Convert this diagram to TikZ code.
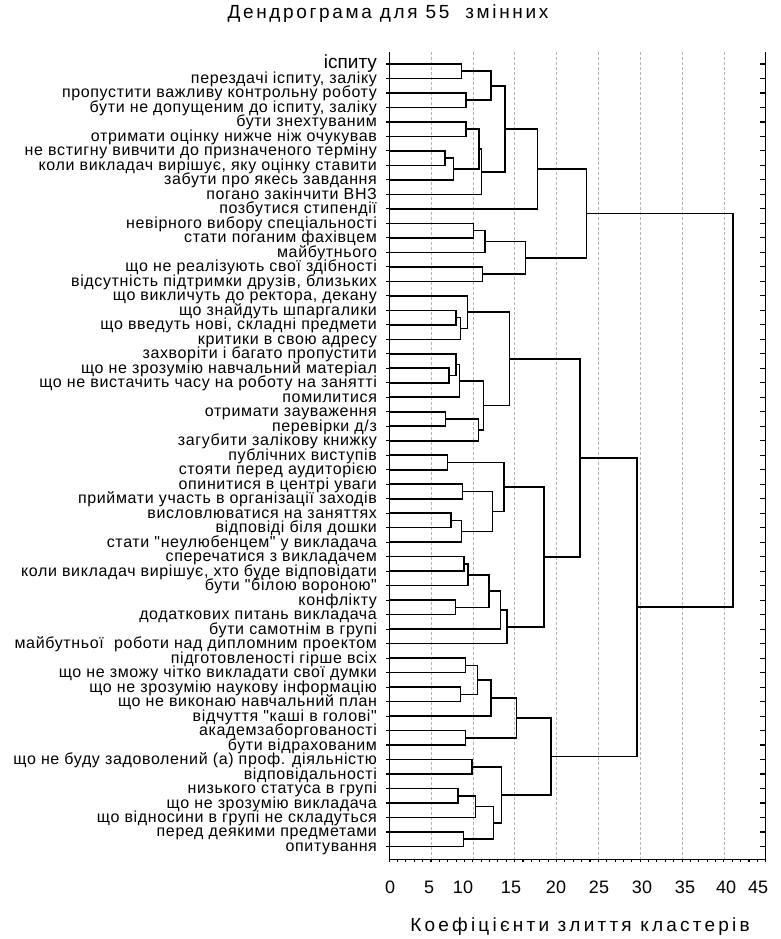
\documentclass[tikz,border=0pt]{standalone}
\usepackage{fontspec}
\setmainfont{Liberation Sans}
\newfontfamily\plotfont[LetterSpace=14]{Liberation Sans}
\newfontfamily\axisfont[LetterSpace=17]{Liberation Sans}
\newfontfamily\labelfont[LetterSpace=4]{Liberation Sans}
\begin{document}
\begin{tikzpicture}[x=1pt, y=-1pt,
    branch/.style={line width=1.6pt},
    axisline/.style={line width=1.1pt},
    gridline/.style={densely dashed, black!30, line width=0.6pt},
    leaflabel/.style={anchor=base east, inner sep=0pt, xshift=-12pt, yshift=-5pt,
      font=\labelfont\fontsize{16}{16}\selectfont},
    ticklabel/.style={anchor=base, inner sep=0pt, font=\fontsize{18}{18}\selectfont}]
  \useasboundingbox (0,0) rectangle (781,939);
  \node[anchor=base, inner sep=0pt, font=\plotfont\fontsize{19}{19}\selectfont] (title) at (388,19) {Дендрограма для 55\ \ змінних};
  \node[anchor=base, inner sep=0pt, font=\axisfont\fontsize{19}{19}\selectfont] (xtitle) at (580,931) {Коефіцієнти злиття кластерів};
  % tick labels
  \foreach \t/\px in {0/390, 5/429, 10/463, 15/511, 20/556, 25/599, 30/642, 35/685, 40/726, 45/758}
    \node[ticklabel] (n\t) at (\px,893) {\t};
  \begin{scope}[shift={(389.1,49.51)}, x=8.37pt, y=-14.49pt]
    \foreach \i in {1,...,55}
      \coordinate (l\i) at (0,\i);
    % grid and frame
    \foreach \v in {5,10,...,40}
      \draw[gridline] (\v,0.17) -- (\v,55.87);
    \draw[axisline] (0,0.17) -- (0,55.87) -- (45,55.87) -- (45,0.17);
    \foreach \i in {1,...,55} {
      \draw[axisline] (0,\i) -- +(-3pt,0);
      \draw[axisline] (45,\i) -- +(-6pt,0);
    }
    \foreach \v in {0,...,45}
      \draw[axisline] (\v,55.87) -- +(0,-3pt);
    % leaf labels
    \node[leaflabel, yshift=0.5pt, font=\fontsize{19}{19}\selectfont] (t1) at (l1) {іспиту};
    \foreach \i/\txt in {2/{перездачі іспиту, заліку}, 3/{пропустити важливу контрольну роботу},
        4/{бути не допущеним до іспиту, заліку}, 5/{бути знехтуваним},
        6/{отримати оцінку нижче ніж очукував}, 7/{не встигну вивчити до призначеного терміну},
        8/{коли викладач вирішує, яку оцінку ставити}, 9/{забути про якесь завдання},
        10/{погано закінчити ВНЗ}, 11/{позбутися стипендії}, 12/{невірного вибору спеціальності},
        13/{стати поганим фахівцем}, 14/{майбутнього}, 15/{що не реалізують свої здібності},
        16/{відсутність підтримки друзів, близьких}, 17/{що викличуть до ректора, декану},
        18/{що знайдуть шпаргалики}, 19/{що введуть нові, складні предмети},
        20/{критики в свою адресу}, 21/{захворіти і багато пропустити},
        22/{що не зрозумію навчальний матеріал}, 23/{що не вистачить часу на роботу на занятті},
        24/{помилитися}, 25/{отримати зауваження}, 26/{перевірки д/з}, 27/{загубити залікову книжку},
        28/{публічних виступів}, 29/{стояти перед аудиторією}, 30/{опинитися в центрі уваги},
        31/{приймати участь в організації заходів}, 32/{висловлюватися на заняттях},
        33/{відповіді біля дошки}, 34/{стати "неулюбенцем" у викладача},
        35/{сперечатися з викладачем}, 36/{коли викладач вирішує, хто буде відповідати},
        37/{бути "білою вороною"}, 38/{конфлікту}, 39/{додаткових питань викладача},
        40/{бути самотнім в групі}, 41/{майбутньої\ \ роботи над дипломним проектом},
        42/{підготовленості гірше всіх}, 43/{що не зможу чітко викладати свої думки},
        44/{що не зрозумію наукову інформацію}, 45/{що не виконаю навчальний план},
        46/{відчуття "каші в голові"}, 47/{академзаборгованості}, 48/{бути відрахованим},
        49/{що не буду задоволений (а) проф. діяльністю}, 50/{відповідальності},
        51/{низького статуса в групі}, 52/{що не зрозумію викладача},
        53/{що відносини в групі не складуться}, 54/{перед деякими предметами}, 55/{опитування}}
      \node[leaflabel] (t\i) at (l\i) {\txt};
    % first cluster
    \coordinate (c1) at (8.67,1.5);   \draw[branch] (l1) -| (c1) (l2) -| (c1);
    \coordinate (c2) at (9.19,3.5);   \draw[branch] (l3) -| (c2) (l4) -| (c2);
    \coordinate (c3) at (12.14,2.5);  \draw[branch] (c1) -| (c3) (c2) -| (c3);
    \coordinate (c4) at (9.19,5.5);   \draw[branch] (l5) -| (c4) (l6) -| (c4);
    \coordinate (c5) at (6.68,7.5);   \draw[branch] (l7) -| (c5) (l8) -| (c5);
    \coordinate (c6) at (7.67,8.25);  \draw[branch] (c5) -| (c6) (l9) -| (c6);
    \coordinate (c7) at (10.74,6.875); \draw[branch] (c4) -| (c7) (c6) -| (c7);
    \coordinate (c8) at (11.06,8.4375); \draw[branch] (c7) -| (c8) (l10) -| (c8);
    \coordinate (c9) at (13.85,5.46875); \draw[branch] (c3) -| (c9) (c8) -| (c9);
    \coordinate (c10) at (17.71,8.234375); \draw[branch] (c9) -| (c10) (l11) -| (c10);
    \coordinate (c11) at (10.06,12.5); \draw[branch] (l12) -| (c11) (l13) -| (c11);
    \coordinate (c12) at (11.46,13.25); \draw[branch] (c11) -| (c12) (l14) -| (c12);
    \coordinate (c13) at (11.14,15.5); \draw[branch] (l15) -| (c13) (l16) -| (c13);
    \coordinate (c14) at (16.3,14.375); \draw[branch] (c12) -| (c14) (c13) -| (c14);
    \coordinate (c15) at (23.6,11.3046875); \draw[branch] (c10) -| (c15) (c14) -| (c15);
    % second cluster
    \coordinate (c16) at (7.99,18.5);  \draw[branch] (l18) -| (c16) (l19) -| (c16);
    \coordinate (c17) at (8.55,19.25); \draw[branch] (c16) -| (c17) (l20) -| (c17);
    \coordinate (c18) at (9.35,18.125); \draw[branch] (l17) -| (c18) (c17) -| (c18);
    \coordinate (c19) at (7.16,22.5);  \draw[branch] (l22) -| (c19) (l23) -| (c19);
    \coordinate (c20) at (7.99,21.75); \draw[branch] (l21) -| (c20) (c19) -| (c20);
    \coordinate (c21) at (8.39,22.875); \draw[branch] (c20) -| (c21) (l24) -| (c21);
    \coordinate (c22) at (6.76,25.5);  \draw[branch] (l25) -| (c22) (l26) -| (c22);
    \coordinate (c23) at (10.66,26.25); \draw[branch] (c22) -| (c23) (l27) -| (c23);
    \coordinate (c24) at (11.26,24.5625); \draw[branch] (c21) -| (c24) (c23) -| (c24);
    \coordinate (c25) at (14.36,21.34375); \draw[branch] (c18) -| (c25) (c24) -| (c25);
    \coordinate (c26) at (6.96,28.5);  \draw[branch] (l28) -| (c26) (l29) -| (c26);
    \coordinate (c27) at (8.75,30.5);  \draw[branch] (l30) -| (c27) (l31) -| (c27);
    \coordinate (c28) at (7.36,32.5);  \draw[branch] (l32) -| (c28) (l33) -| (c28);
    \coordinate (c29) at (8.67,33.25); \draw[branch] (c28) -| (c29) (l34) -| (c29);
    \coordinate (c30) at (12.37,31.875); \draw[branch] (c27) -| (c30) (c29) -| (c30);
    \coordinate (c31) at (13.73,30.1875); \draw[branch] (c26) -| (c31) (c30) -| (c31);
    \coordinate (c32) at (8.95,35.5);  \draw[branch] (l35) -| (c32) (l36) -| (c32);
    \coordinate (c33) at (9.39,36.25); \draw[branch] (c32) -| (c33) (l37) -| (c33);
    \coordinate (c34) at (7.95,38.5);  \draw[branch] (l38) -| (c34) (l39) -| (c34);
    \coordinate (c35) at (11.94,37.375); \draw[branch] (c33) -| (c35) (c34) -| (c35);
    \coordinate (c36) at (13.33,38.6875); \draw[branch] (c35) -| (c36) (l40) -| (c36);
    \coordinate (c37) at (14.12,39.84375); \draw[branch] (c36) -| (c37) (l41) -| (c37);
    \coordinate (c38) at (18.5,35.015625); \draw[branch] (c31) -| (c38) (c37) -| (c38);
    \coordinate (c39) at (22.78,28.1796875); \draw[branch] (c25) -| (c39) (c38) -| (c39);
    % third cluster
    \coordinate (c40) at (9.15,42.5);  \draw[branch] (l42) -| (c40) (l43) -| (c40);
    \coordinate (c41) at (8.55,44.5);  \draw[branch] (l44) -| (c41) (l45) -| (c41);
    \coordinate (c42) at (10.54,43.5); \draw[branch] (c40) -| (c42) (c41) -| (c42);
    \coordinate (c43) at (12.17,44.75); \draw[branch] (c42) -| (c43) (l46) -| (c43);
    \coordinate (c44) at (9.15,47.5);  \draw[branch] (l47) -| (c44) (l48) -| (c44);
    \coordinate (c45) at (15.24,46.125); \draw[branch] (c43) -| (c45) (c44) -| (c45);
    \coordinate (c46) at (9.87,49.5);  \draw[branch] (l49) -| (c46) (l50) -| (c46);
    \coordinate (c47) at (8.2,51.5);   \draw[branch] (l51) -| (c47) (l52) -| (c47);
    \coordinate (c48) at (10.34,52.25); \draw[branch] (c47) -| (c48) (l53) -| (c48);
    \coordinate (c49) at (8.87,54.5);  \draw[branch] (l54) -| (c49) (l55) -| (c49);
    \coordinate (c50) at (12.45,53.375); \draw[branch] (c48) -| (c50) (c49) -| (c50);
    \coordinate (c51) at (13.45,51.4375); \draw[branch] (c46) -| (c51) (c50) -| (c51);
    \coordinate (c52) at (19.34,48.78125); \draw[branch] (c45) -| (c52) (c51) -| (c52);
    % top joins
    \coordinate (c53) at (29.6,38.48046875); \draw[branch] (c39) -| (c53) (c52) -| (c53);
    \coordinate (c54) at (41.1,24.892578125); \draw[branch] (c15) -| (c54) (c53) -| (c54);
  \end{scope}
\end{tikzpicture}
\end{document}
